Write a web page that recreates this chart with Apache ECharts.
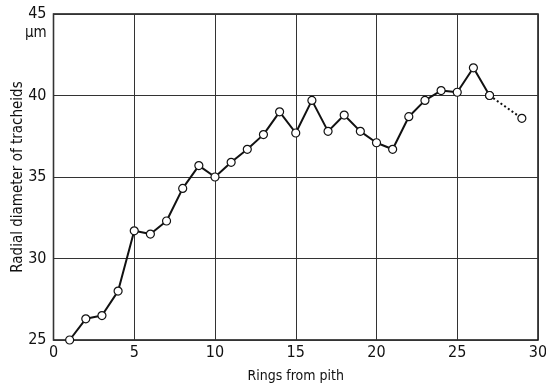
<!DOCTYPE html>
<html>
<head>
<meta charset="utf-8">
<script src="https://cdn.jsdelivr.net/npm/echarts@6/dist/echarts.min.js"></script>
<style>
  html, body { margin: 0; padding: 0; background: #fff; }
  #chart { width: 546px; height: 386px; }
</style>
</head>
<body>
<div id="chart"></div>
<script>
// Radial tracheid diameter by ring number counted from the pith
const rings = [1, 2, 3, 4, 5, 6, 7, 8, 9, 10, 11, 12, 13, 14, 15, 16, 17, 18, 19, 20, 21, 22, 23, 24, 25, 26, 27];
const diameter = [25.0, 26.3, 26.5, 28.0, 31.7, 31.5, 32.3, 34.3, 35.7, 35.0, 35.9, 36.7, 37.6, 39.0, 37.7, 39.7, 37.8, 38.8, 37.8, 37.1, 36.7, 38.7, 39.7, 40.3, 40.2, 41.7, 40.0];
// outer rings, connected by a dotted line
const outerRings = [27, 29];
const outerDiameter = [40.0, 38.6];

const xTicks = [0, 5, 10, 15, 20, 25, 30];
const yTicks = [25, 30, 35, 40, 45];

const FONT = "'DejaVu Sans Condensed', 'Liberation Sans Narrow', sans-serif";

const chart = echarts.init(document.getElementById('chart'), null, { renderer: 'canvas' });

const pts = (xs, ys) => xs.map((x, i) => [x, ys[i]]);

const marker = {
  symbol: 'circle',
  symbolSize: 8,
  itemStyle: { color: '#fff', borderColor: '#111', borderWidth: 1.2 }
};

chart.setOption({
  animation: false,
  backgroundColor: '#fff',
  grid: {
    left: 53.5, right: 8, top: 14, bottom: 46,
    containLabel: false, outerBoundsMode: 'none',
    show: true, borderColor: '#111', borderWidth: 1.5
  },
  xAxis: {
    type: 'value',
    min: xTicks[0], max: xTicks[xTicks.length - 1], interval: 5,
    name: 'Rings from pith',
    nameLocation: 'middle', nameGap: 29, nameMoveOverlap: false,
    nameTextStyle: { fontFamily: FONT, fontSize: 14, color: '#111' },
    axisLine: { show: false },
    axisTick: { show: false },
    axisLabel: { fontFamily: FONT, fontSize: 16, color: '#111', margin: 5 },
    splitLine: { show: true, lineStyle: { color: '#333', width: 1 } }
  },
  yAxis: {
    type: 'value',
    min: yTicks[0], max: yTicks[yTicks.length - 1], interval: 5,
    name: 'Radial diameter of tracheids',
    nameLocation: 'middle', nameGap: 28, nameMoveOverlap: false,
    nameTextStyle: { fontFamily: FONT, fontSize: 15, color: '#111' },
    axisLine: { show: false },
    axisTick: { show: false },
    axisLabel: { fontFamily: FONT, fontSize: 16, color: '#111', margin: 7 },
    splitLine: { show: true, lineStyle: { color: '#333', width: 1 } }
  },
  graphic: [{
    type: 'text',
    left: 25, top: 26,
    style: { text: 'μm', font: "15px " + FONT, fill: '#111' }
  }],
  series: [
    Object.assign({
      type: 'line',
      data: pts(rings, diameter),
      lineStyle: { color: '#111', width: 2 },
      z: 3
    }, marker),
    Object.assign({
      type: 'line',
      data: pts(outerRings, outerDiameter),
      lineStyle: { color: '#111', width: 2, type: [2, 2.5] },
      z: 2
    }, marker)
  ]
});
</script>
</body>
</html>
